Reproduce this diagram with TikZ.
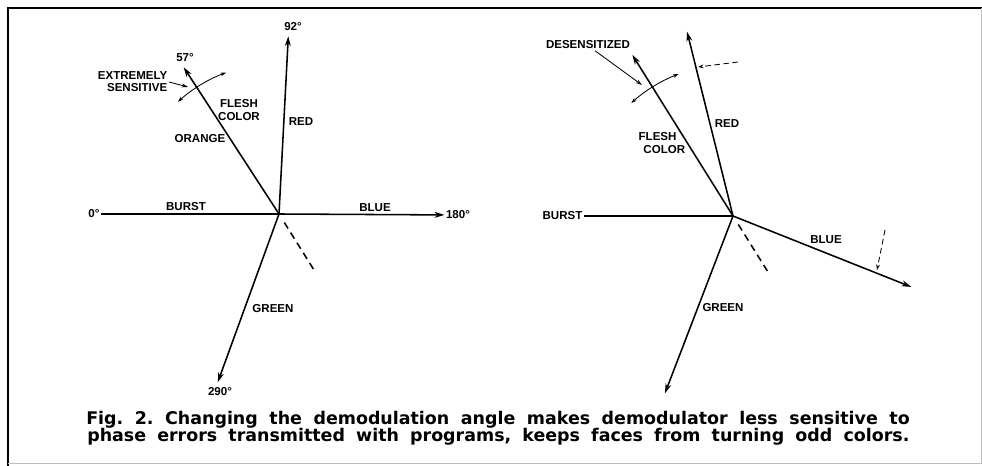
\documentclass[tikz,border=0pt]{standalone}
\usepackage{fontspec}
\setmainfont{Liberation Sans}
\newfontfamily\capfont{DejaVu Sans}
\usetikzlibrary{calc,arrows.meta}
\tikzset{
  vec/.style={line width=1.1pt, -{Stealth[length=7pt,width=4.2pt]}},
  plain/.style={line width=1.1pt},
  ghost/.style={line width=1.1pt, dash pattern=on 5pt off 3.5pt},
  hint/.style={line width=0.6pt, dash pattern=on 4pt off 2.5pt, -{Stealth[length=4pt,width=2.6pt]}},
  swing/.style={line width=0.6pt, {Stealth[length=4pt,width=2.6pt]}-{Stealth[length=4pt,width=2.6pt]}},
  pointer/.style={line width=0.6pt, -{Stealth[length=4.5pt,width=2.8pt]}},
  lbl/.style={font=\bfseries\fontsize{8.2}{8.6}\selectfont, inner sep=1pt},
  caption/.style={font=\capfont\bfseries\fontsize{12.4}{12}\selectfont\frenchspacing, inner sep=0pt, anchor=base west}
}
\begin{document}
\begin{tikzpicture}[x=0.025cm, y=0.025cm]
  \useasboundingbox (0,0) rectangle (982,466);
  \fill[white] (0,0) rectangle (982,466);
  % frame
  \draw[line width=1.6pt] (8,0) -- (8,458) -- (982,458);
  \draw[black!25, line width=0.5pt] (8,3) -- (981,3) -- (981,458);

  % ---- left diagram: standard angles ----
  \coordinate (o1) at (279,252);
  \node[lbl] (zero)   at (94,252)  {0°};
  \node[lbl] (half)   at (458,251) {180°};
  \coordinate (red1)   at ($(o1)+(87:178)$);
  \coordinate (flesh1) at ($(o1)+(123:175)$);
  \coordinate (green1) at ($(o1)+(-110:179)$);
  \draw[plain] (o1) -- (zero);
  \draw[vec] (o1) -- (half);
  \draw[vec] (o1) -- (red1);
  \draw[vec] (o1) -- (flesh1);
  \draw[vec] (o1) -- (green1);
  \draw[ghost] ($(o1)+(-58:10)$) -- ($(o1)+(-58:69)$);
  \draw[swing] ($(o1)+(132:151)$) arc[start angle=132, end angle=110.5, radius=151];

  \node[lbl] (deg92)  at (293,439) {92°};
  \node[lbl] (deg57)  at (185,408) {57°};
  \node[lbl] (deg290) at (220,74)  {290°};
  \node[lbl, align=right, anchor=east] (extreme) at (169,384) {EXTREMELY\\SENSITIVE};
  \coordinate (hit1) at (188,379);
  \draw[pointer] (extreme.east) -- (hit1);
  \node[lbl, align=center] (fleshlbl1) at (239,356) {FLESH\\COLOR};
  \node[lbl] (orange) at (200,327) {ORANGE};
  \node[lbl] (redlbl1) at (301,344) {RED};
  \node[lbl] (burst1) at (186,259) {BURST};
  \node[lbl] (blue1) at (375,258) {BLUE};
  \node[lbl] (greenlbl1) at (273,157) {GREEN};

  % ---- right diagram: shifted angles ----
  \coordinate (o2) at (733,250);
  \node[lbl, anchor=east] (burst2) at (584,250) {BURST};
  \coordinate (red2)   at ($(o2)+(104:190)$);
  \coordinate (flesh2) at ($(o2)+(122:190)$);
  \coordinate (blue2)  at ($(o2)+(-21.7:192)$);
  \coordinate (green2) at ($(o2)+(-111:190)$);
  \draw[plain] (o2) -- (burst2);
  \draw[vec] (o2) -- (red2);
  \draw[vec] (o2) -- (flesh2);
  \draw[vec] (o2) -- (blue2);
  \draw[vec] (o2) -- (green2);
  \draw[ghost] ($(o2)+(-58:10)$) -- ($(o2)+(-58:68)$);
  \draw[swing] ($(o2)+(132:152)$) arc[start angle=132, end angle=111, radius=152];
  % old positions of red and blue
  \coordinate (oldred) at (738,404);
  \coordinate (onred) at (698,399);
  \draw[hint] (oldred) -- (onred);
  \coordinate (oldblue) at (885,236);
  \coordinate (onblue) at (877,196);
  \draw[hint] (oldblue) -- (onblue);

  \node[lbl] (desens) at (588,421) {DESENSITIZED};
  \coordinate (hit2) at (642,381);
  \draw[pointer] ($(desens.south)+(7,0)$) -- (hit2);
  \node[lbl, align=left, anchor=west] (fleshlbl2) at (637,323) {FLESH\\\hspace*{0.12cm}COLOR};
  \node[lbl] (redlbl2) at (727,342) {RED};
  \node[lbl] (bluelbl2) at (826,226) {BLUE};
  \node[lbl] (greenlbl2) at (723,158) {GREEN};

  % caption
  \node[caption] (cap1) at (86,41) {\makebox[20.58cm][s]{Fig. 2. Changing the demodulation angle makes demodulator less sensitive to}};
  \node[caption] (cap2) at (87,24) {\makebox[20.55cm][s]{phase errors transmitted with programs, keeps faces from turning odd colors.}};
\end{tikzpicture}
\end{document}
